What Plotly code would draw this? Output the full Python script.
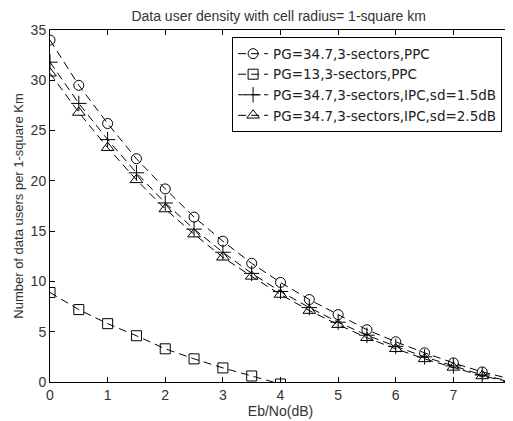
import plotly.graph_objects as go

x = [0, 0.5, 1, 1.5, 2, 2.5, 3, 3.5, 4, 4.5, 5, 5.5, 6, 6.5, 7, 7.5, 8]
ppc_347 = [34.0, 29.5, 25.7, 22.2, 19.2, 16.4, 14.0, 11.8, 9.9, 8.2, 6.7, 5.2, 4.0, 2.9, 1.9, 1.0, 0.3]
x_sq = [0, 0.5, 1, 1.5, 2, 2.5, 3, 3.5, 4]
ppc_13 = [8.9, 7.2, 5.8, 4.6, 3.3, 2.3, 1.4, 0.6, -0.2]
ipc_15 = [31.8, 27.7, 24.1, 20.8, 17.8, 15.2, 12.9, 10.8, 9.0, 7.4, 5.95, 4.65, 3.55, 2.5, 1.6, 0.7, 0.05]
ipc_25 = [30.7, 26.8, 23.3, 20.1, 17.2, 14.7, 12.4, 10.5, 8.7, 7.1, 5.7, 4.4, 3.3, 2.3, 1.45, 0.6, 0.0]

names = ["PG=34.7,3-sectors,PPC", "PG=13,3-sectors,PPC",
         "PG=34.7,3-sectors,IPC,sd=1.5dB", "PG=34.7,3-sectors,IPC,sd=2.5dB"]

fig = go.Figure()
series = [(x, ppc_347, "circle-open", 10), (x_sq, ppc_13, "square-open", 10),
          (x, ipc_15, "cross-thin-open", 11), (x, ipc_25, "triangle-up-open", 11)]
for (xs, ys, sym, sz), nm in zip(series, names):
    fig.add_trace(go.Scatter(
        x=xs, y=ys, name=nm, mode="lines+markers",
        line=dict(color="black", width=1, dash="8px,5px"),
        marker=dict(symbol=sym, size=sz, color="black", line=dict(color="black", width=1)),
    ))

axis_common = dict(showline=True, linecolor="black", linewidth=1, mirror="ticks",
                   ticks="inside", ticklen=5, tickcolor="black", showgrid=False,
                   zeroline=False, automargin=False, ticklabeloverflow="allow",
                   tickfont=dict(size=14, color="#333333"))
fig.update_layout(
    width=505, height=413,
    margin=dict(l=42, r=2, t=22, b=39),
    paper_bgcolor="white", plot_bgcolor="white",
    font=dict(family="Liberation Sans, Arial, sans-serif", color="#333333", size=13),
    title=dict(text="Data user density with cell radius= 1-square km", x=0.536, xanchor="center",
               y=1 - 8 / 413, yanchor="middle", font=dict(size=14, color="#333333")),
    xaxis=dict(range=[0, 8], dtick=1, title=dict(text="Eb/No(dB)", standoff=0, font=dict(size=14)), **axis_common),
    yaxis=dict(range=[0, 35], dtick=5, title=dict(text="Number of data users per 1-square Km", standoff=4, font=dict(size=13)), **axis_common),
    legend=dict(x=0.395, y=0.979, xanchor="left", yanchor="top", bgcolor="white",
                bordercolor="black", borderwidth=1,
                font=dict(family="DejaVu Sans, sans-serif", size=13.5, color="#222222"),
                tracegroupgap=0),
    showlegend=True,
)
fig.write_html("out.html")
